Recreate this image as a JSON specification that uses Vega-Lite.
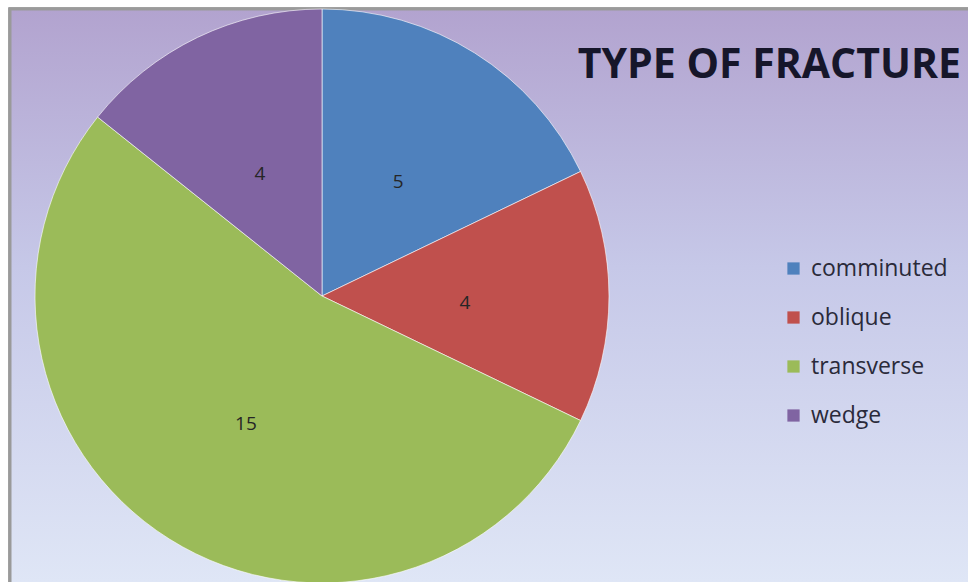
{
  "$schema": "https://vega.github.io/schema/vega-lite/v6.json",
  "width": 958,
  "height": 573,
  "autosize": {"type": "none"},
  "padding": {"left": 10, "top": 9, "right": 0, "bottom": 0},
  "background": "#ffffff",
  "config": {
    "view": {"stroke": null},
    "font": "Open Sans"
  },
  "title": {
    "text": "TYPE OF FRACTURE",
    "orient": "top",
    "anchor": "end",
    "frame": "group",
    "font": "Open Sans",
    "fontSize": 41,
    "fontWeight": "bold",
    "color": "#16162a",
    "dx": -7,
    "dy": 84
  },
  "data": {
    "values": [
      {"type": "comminuted", "count": 5},
      {"type": "oblique", "count": 4},
      {"type": "transverse", "count": 15},
      {"type": "wedge", "count": 4}
    ]
  },
  "layer": [
    {
      "mark": {
        "type": "rect",
        "stroke": "#9a9a9a",
        "strokeWidth": 3,
        "strokeDash": [958, 1531, 573],
        "fill": {
          "gradient": "linear",
          "x1": 0, "y1": 0, "x2": 0, "y2": 1,
          "stops": [
            {"offset": 0, "color": "#b2a3cf"},
            {"offset": 0.45, "color": "#c6c8e8"},
            {"offset": 1, "color": "#dfe6f6"}
          ]
        }
      },
      "encoding": {}
    },
    {
      "mark": {"type": "arc", "outerRadius": 287, "x": 312, "y": 287, "stroke": "#ffffff", "strokeWidth": 1, "strokeOpacity": 0.6},
      "encoding": {
        "theta": {"field": "count", "type": "quantitative", "stack": true},
        "color": {
          "field": "type",
          "type": "nominal",
          "scale": {
            "domain": ["comminuted", "oblique", "transverse", "wedge"],
            "range": ["#4f81bd", "#c0504d", "#9bbb59", "#8064a2"]
          },
          "legend": {
            "title": null,
            "orient": "none",
            "legendX": 772,
            "legendY": 248,
            "symbolType": "square",
            "symbolSize": 150,
            "symbolStrokeWidth": 0,
            "labelFont": "Open Sans",
            "labelFontSize": 23,
            "labelColor": "#2a2a3a",
            "labelOffset": 6,
            "rowPadding": 25,
            "padding": 0
          }
        }
      }
    },
    {
      "mark": {"type": "text", "radius": 143, "x": 312, "y": 287, "dy": 7, "font": "Open Sans", "fontSize": 19, "color": "#262626"},
      "encoding": {
        "theta": {"field": "count", "type": "quantitative", "stack": true},
        "text": {"field": "count", "type": "quantitative"},
        "order": {"field": "type", "type": "nominal"}
      }
    }
  ]
}
